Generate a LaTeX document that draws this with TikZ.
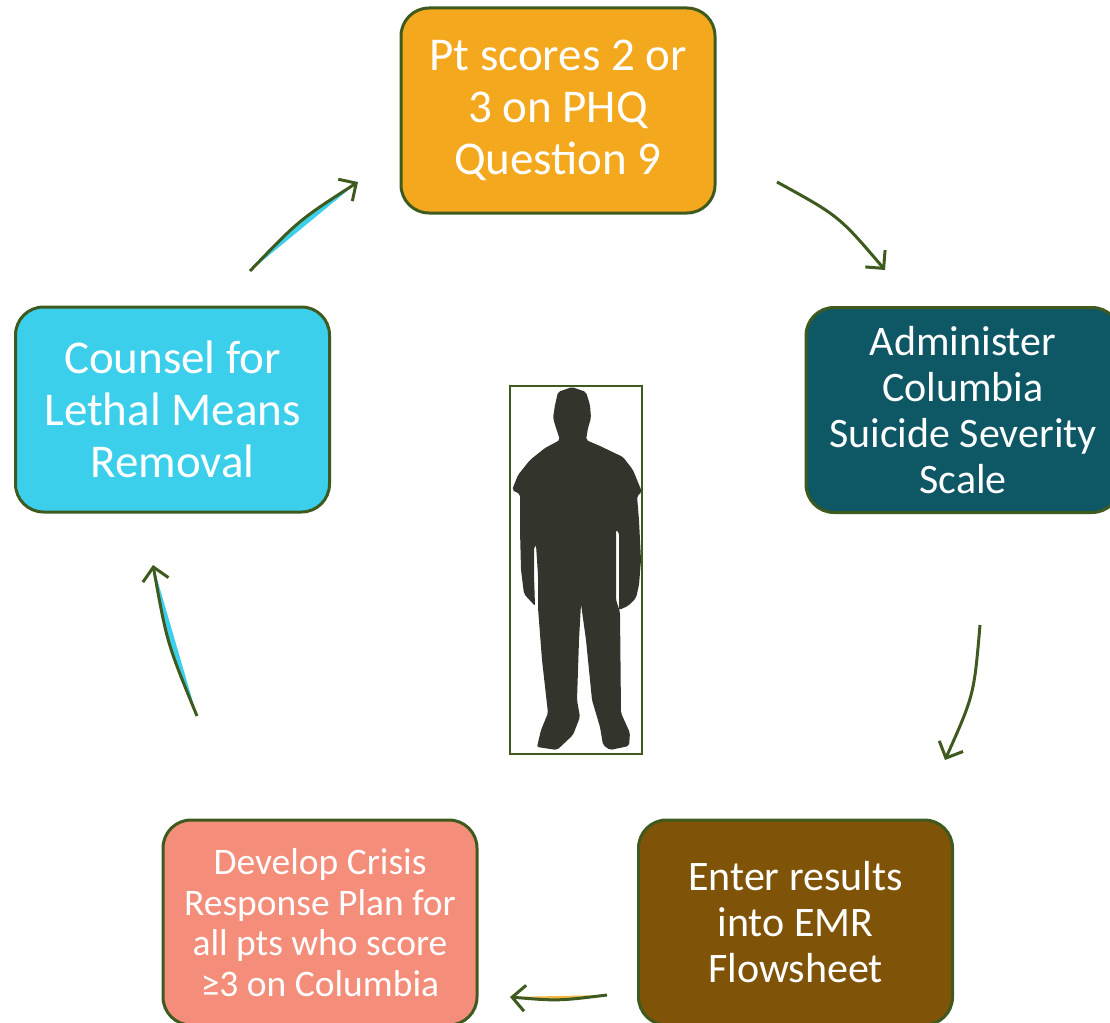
\documentclass[tikz,border=0pt]{standalone}
\usepackage{fontspec}
\setmainfont{Carlito}
\usetikzlibrary{arrows.meta,positioning}
\definecolor{edgegreen}{HTML}{3E5A1E}
\definecolor{phqorange}{HTML}{F4A81D}
\definecolor{cssrsteal}{HTML}{0E5866}
\definecolor{emrbrown}{HTML}{7F5409}
\definecolor{plansalmon}{HTML}{F48D7A}
\definecolor{lethalcyan}{HTML}{3BCFEB}
\definecolor{tipyellow}{HTML}{F5B842}
\definecolor{shadow}{HTML}{33352D}

\begin{document}
\begin{tikzpicture}[x=1pt,y=-1pt,on grid,
    stage/.style={draw=edgegreen,line width=3pt,rounded corners=28pt,minimum width=314pt,minimum height=205pt,text=white,align=center,inner sep=0pt},
    flow/.style={edgegreen,line width=3pt,-{Straight Barb[length=13pt,width=26pt]}}]
    \useasboundingbox (0,0) rectangle (1110,1022);
    % the five steps
    \node[stage,fill=phqorange,font=\fontsize{47}{52}\selectfont] (phq) at (558,110.5) {Pt scores 2 or\\3 on PHQ\\Question 9};
    \node[stage,fill=cssrsteal,font=\fontsize{42}{46}\selectfont] [below right=299.5pt and 405pt of phq] (cssrs) {Administer\\Columbia\\Suicide Severity\\Scale};
    \node[stage,fill=emrbrown,font=\fontsize{42}{46}\selectfont] [below left=512.5pt and 167.5pt of cssrs] (emr) {Enter results\\into EMR\\Flowsheet};
    \node[stage,fill=plansalmon,font=\fontsize{37.5}{40.5}\selectfont] [left=475.5pt of emr] (plan) {Develop Crisis\\Response Plan for\\all pts who score\\≥3 on Columbia};
    \node[stage,fill=lethalcyan,font=\fontsize{47}{52}\selectfont] [above left=513pt and 147.5pt of plan] (lethal) {Counsel for\\Lethal Means\\Removal};
    % arrow ends
    \coordinate (s1) at (777,182); \coordinate (e1) at (885,270);
    \coordinate (s2) at (980,625); \coordinate (e2) at (945,760);
    \coordinate (s3) at (607,995); \coordinate (e3) at (510,997);
    \coordinate (s4) at (197,716); \coordinate (e4) at (153,565);
    \coordinate (s5) at (250,271); \coordinate (e5) at (358,182);
    \fill[tipyellow] (s3) .. controls (558,1001) .. (e3) -- cycle;
    \fill[lethalcyan] (s4) .. controls (167,643) .. (e4) -- cycle;
    \fill[lethalcyan] (s5) .. controls (299,220) .. (e5) -- cycle;
    \draw[flow] (s1) .. controls (839,216) .. (e1);
    \draw[flow] (s2) .. controls (974,695) .. (e2);
    \draw[flow] (s3) .. controls (558,1001) .. (e3);
    \draw[flow] (s4) .. controls (167,643) .. (e4);
    \draw[flow] (s5) .. controls (299,220) .. (e5);
    % person in the middle
    \node[draw=edgegreen,line width=1.5pt,minimum width=132pt,minimum height=368pt,inner sep=0pt] (person) at (576,570) {};
    \fill[shadow,rounded corners=2pt] (572,387) -- (586,392) -- (590,405) -- (591,418) -- (588,428) -- (586,440)
        -- (600,446) -- (623,457) -- (633,470) -- (642,492) -- (637,496) -- (639,520) -- (641,560)
        -- (639,585) -- (636,598) -- (628,606) -- (619,610) -- (619,532) -- (616,530) -- (616,600)
        -- (620,612) -- (621,713) -- (630,733) -- (629,746) -- (610,750) -- (603,745) -- (600,727)
        -- (592,700) -- (586,640) -- (581,604) -- (579,640) -- (577,700) -- (580,717) -- (573,735)
        -- (557,750) -- (537,747) -- (541,730) -- (548,713) -- (542,660) -- (538,608) -- (538,575)
        -- (536,545) -- (534,547) -- (534,575) -- (535,606) -- (524,594) -- (521,570) -- (520,530)
        -- (520,494) -- (512,490) -- (518,475) -- (530,460) -- (545,448) -- (560,440) -- (556,428)
        -- (553,418) -- (555,405) -- (558,392) -- cycle;
\end{tikzpicture}
\end{document}
